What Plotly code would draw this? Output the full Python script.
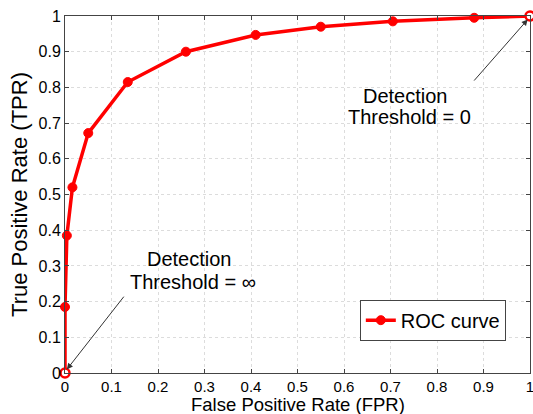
import plotly.graph_objects as go

fpr = [0.0, 0.0, 0.004, 0.016, 0.05, 0.135, 0.26, 0.41, 0.55, 0.705, 0.88, 1.0]
tpr = [0.0, 0.185, 0.385, 0.52, 0.672, 0.815, 0.90, 0.947, 0.97, 0.985, 0.995, 1.0]
tick_vals = [0, 0.1, 0.2, 0.3, 0.4, 0.5, 0.6, 0.7, 0.8, 0.9, 1]
tick_text = ["0", "0.1", "0.2", "0.3", "0.4", "0.5", "0.6", "0.7", "0.8", "0.9", "1"]

FONT = "Liberation Sans, Arial, sans-serif"
RED = "#ff0000"

fig = go.Figure()
fig.add_trace(go.Scatter(
    x=fpr, y=tpr, mode="lines+markers", name="ROC curve",
    line=dict(color=RED, width=3.5),
    marker=dict(size=9, color=RED, line=dict(color=RED, width=1)),
    cliponaxis=False,
))
# open end-point markers
fig.add_trace(go.Scatter(
    x=[fpr[0], fpr[-1]], y=[tpr[0], tpr[-1]], mode="markers", showlegend=False,
    marker=dict(size=9, color="white", line=dict(color=RED, width=2.5)),
    cliponaxis=False, hoverinfo="skip",
))

axis_common = dict(
    range=[0, 1], tickvals=tick_vals, ticktext=tick_text,
    showgrid=True, gridcolor="#dcdcdc", griddash="dot", gridwidth=1,
    showline=True, linecolor="#444444", linewidth=1, mirror="ticks",
    ticks="inside", ticklen=4, tickcolor="#444444",
    zeroline=False, fixedrange=True, automargin=False,
    ticklabeloverflow="allow",
)
fig.update_xaxes(**axis_common, tickfont=dict(family=FONT, size=15, color="black"))
fig.update_yaxes(**axis_common, tickfont=dict(family=FONT, size=16, color="black"),
                 title=dict(text="True Positive Rate (TPR)", standoff=4,
                            font=dict(family=FONT, size=22, color="black")))

# x-axis title as a paper annotation for tight placement
fig.add_annotation(x=0.5, y=0, xref="paper", yref="paper", xanchor="center",
                   yanchor="top", yshift=-19, showarrow=False,
                   text="False Positive Rate (FPR)",
                   font=dict(family=FONT, size=18.5, color="black"))

ann_font = dict(family=FONT, size=20, color="black")
# Text labels (one annotation per line for tight line spacing)
fig.add_annotation(x=0.268, y=0.318, xref="x", yref="y", showarrow=False,
                   text="Detection", font=ann_font)
fig.add_annotation(x=0.275, y=0.255, xref="x", yref="y", showarrow=False,
                   text="Threshold = ∞", font=ann_font)
fig.add_annotation(x=0.732, y=0.776, xref="x", yref="y", showarrow=False,
                   text="Detection", font=ann_font)
fig.add_annotation(x=0.74, y=0.717, xref="x", yref="y", showarrow=False,
                   text="Threshold = 0", font=ann_font)
# Arrows
fig.add_annotation(x=0.004, y=0.01, xref="x", yref="y", text="", showarrow=True,
                   axref="x", ayref="y", ax=0.129, ay=0.218,
                   arrowhead=2, arrowsize=1.2, arrowwidth=1, arrowcolor="#333333")
fig.add_annotation(x=0.995, y=0.99, xref="x", yref="y", text="", showarrow=True,
                   axref="x", ayref="y", ax=0.877, ay=0.815,
                   arrowhead=2, arrowsize=1.2, arrowwidth=1, arrowcolor="#333333")

fig.update_layout(
    width=533, height=414,
    margin=dict(l=65, r=3, t=16, b=41, autoexpand=False),
    plot_bgcolor="white", paper_bgcolor="white",
    showlegend=True,
    legend=dict(x=0.948, y=0.148, xanchor="right", yanchor="middle",
                bordercolor="#444444", borderwidth=1, bgcolor="white",
                font=dict(family=FONT, size=20, color="black"),
                itemwidth=30, tracegroupgap=0),
)

fig.write_html("out.html", config={"displayModeBar": False},
               post_script="document.body.style.margin='0px';document.body.style.overflow='hidden';")
